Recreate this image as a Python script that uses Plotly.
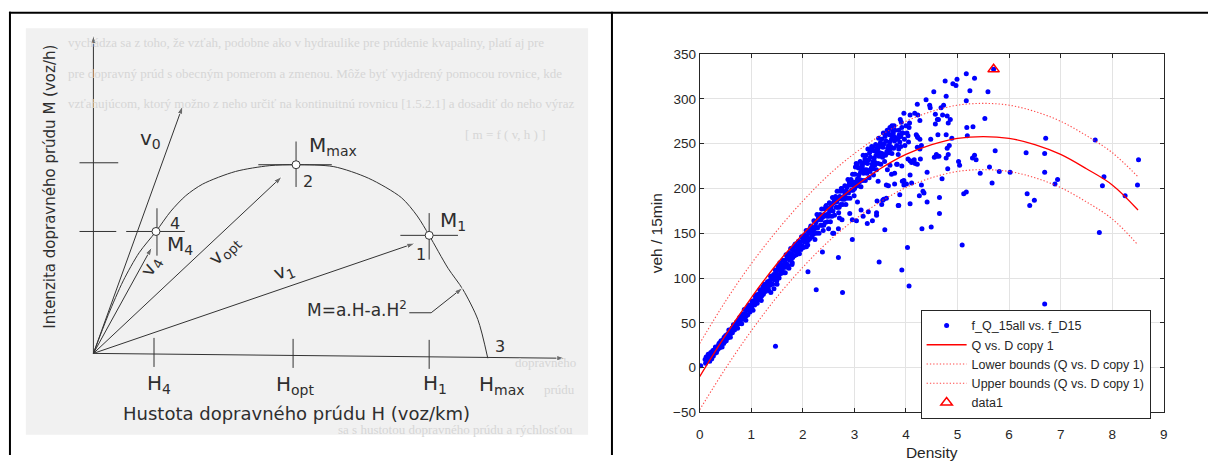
import plotly.graph_objects as go

W, H = 1212, 463

# ======================= RIGHT PANEL DATA =======================
# dense band of observations (density, flow)
band_points = [
    (0.105, 9), (0.115, 5), (0.125, 12), (0.135, 7), (0.145, 10),
    (0.155, 11), (0.165, 15), (0.175, 9), (0.185, 12), (0.195, 7),
    (0.205, 12), (0.215, 17), (0.225, 14), (0.235, 10), (0.245, 15),
    (0.255, 19), (0.265, 13), (0.275, 18), (0.285, 20), (0.295, 16),
    (0.305, 23), (0.315, 19), (0.325, 17), (0.335, 22), (0.345, 20),
    (0.355, 21), (0.365, 25), (0.375, 27), (0.385, 22), (0.395, 28),
    (0.405, 25), (0.415, 30), (0.425, 27), (0.435, 23), (0.445, 28),
    (0.455, 31), (0.465, 27), (0.475, 34), (0.485, 29), (0.495, 32),
    (0.505, 36), (0.515, 30), (0.525, 35), (0.535, 37), (0.545, 33),
    (0.555, 38), (0.565, 42), (0.575, 36), (0.585, 39), (0.595, 34),
    (0.605, 38), (0.615, 42), (0.625, 44), (0.635, 39), (0.645, 45),
    (0.655, 48), (0.665, 44), (0.675, 42), (0.685, 47), (0.695, 45),
    (0.705, 46), (0.715, 51), (0.725, 48), (0.735, 44), (0.745, 49),
    (0.755, 53), (0.765, 49), (0.775, 56), (0.785, 51), (0.795, 54),
    (0.805, 58), (0.815, 49), (0.825, 57), (0.835, 60), (0.845, 54),
    (0.855, 59), (0.865, 65), (0.875, 56), (0.885, 60), (0.895, 53),
    (0.905, 58), (0.915, 64), (0.925, 66), (0.935, 59), (0.945, 68),
    (0.955, 70), (0.965, 64), (0.975, 62), (0.985, 69), (0.995, 66),
    (1.005, 67), (1.015, 74), (1.025, 70), (1.035, 64), (1.045, 72),
    (1.055, 75), (1.065, 70), (1.075, 80), (1.085, 72), (1.095, 77),
    (1.105, 81), (1.115, 72), (1.125, 80), (1.135, 82), (1.145, 76),
    (1.155, 81), (1.165, 87), (1.175, 78), (1.185, 83), (1.195, 75),
    (1.205, 80), (1.215, 87), (1.225, 90), (1.235, 82), (1.245, 91),
    (1.255, 93), (1.265, 87), (1.275, 85), (1.285, 92), (1.295, 89),
    (1.305, 89), (1.315, 96), (1.325, 92), (1.335, 86), (1.345, 94),
    (1.355, 97), (1.365, 92), (1.375, 102), (1.385, 94), (1.395, 99),
    (1.405, 102), (1.415, 93), (1.425, 101), (1.435, 104), (1.445, 98),
    (1.455, 103), (1.465, 109), (1.475, 100), (1.485, 105), (1.495, 97),
    (1.505, 101), (1.515, 109), (1.525, 113), (1.535, 103), (1.545, 115),
    (1.555, 117), (1.565, 109), (1.575, 105), (1.585, 115), (1.595, 111),
    (1.605, 110), (1.615, 120), (1.625, 114), (1.635, 106), (1.645, 116),
    (1.655, 120), (1.665, 112), (1.675, 126), (1.685, 116), (1.695, 122),
    (1.705, 126), (1.715, 114), (1.725, 124), (1.735, 128), (1.745, 120),
    (1.755, 125), (1.765, 133), (1.775, 121), (1.785, 127), (1.795, 117),
    (1.805, 123), (1.815, 131), (1.825, 135), (1.835, 125), (1.845, 137),
    (1.855, 138), (1.865, 130), (1.875, 126), (1.885, 136), (1.895, 132),
    (1.905, 131), (1.915, 141), (1.925, 135), (1.935, 127), (1.945, 137),
    (1.955, 140), (1.965, 132), (1.975, 146), (1.985, 136), (1.995, 142),
    (2.005, 146), (2.015, 134), (2.025, 144), (2.035, 148), (2.045, 140),
    (2.055, 145), (2.065, 153), (2.075, 141), (2.085, 147), (2.095, 137),
    (2.105, 142), (2.115, 150), (2.125, 154), (2.135, 144), (2.145, 156),
    (2.155, 158), (2.165, 150), (2.175, 146), (2.185, 156), (2.195, 152),
    (2.205, 149), (2.215, 164), (2.225, 155), (2.235, 143), (2.245, 158),
    (2.255, 162), (2.265, 150), (2.275, 171), (2.285, 156), (2.295, 165),
    (2.305, 168), (2.315, 150), (2.325, 165), (2.335, 171), (2.345, 159),
    (2.355, 165), (2.365, 177), (2.375, 159), (2.385, 168), (2.395, 153),
    (2.405, 159), (2.415, 171), (2.425, 177), (2.435, 162), (2.445, 180),
    (2.455, 181), (2.465, 169), (2.475, 163), (2.485, 178), (2.495, 172),
    (2.505, 169), (2.515, 184), (2.525, 175), (2.535, 163), (2.545, 178),
    (2.555, 181), (2.565, 169), (2.575, 190), (2.585, 175), (2.595, 184),
    (2.605, 188), (2.615, 170), (2.625, 185), (2.635, 191), (2.645, 179),
    (2.655, 185), (2.665, 197), (2.675, 179), (2.685, 188), (2.695, 173),
    (2.705, 179), (2.715, 191), (2.725, 197), (2.735, 182), (2.745, 200),
    (2.755, 200), (2.765, 188), (2.775, 182), (2.785, 197), (2.795, 191),
    (2.805, 188), (2.815, 203), (2.825, 194), (2.835, 182), (2.845, 197),
    (2.855, 201), (2.865, 189), (2.875, 210), (2.885, 195), (2.895, 204),
    (2.905, 207), (2.915, 189), (2.925, 204), (2.935, 210), (2.945, 198),
    (2.955, 204), (2.965, 216), (2.975, 198), (2.985, 207), (2.995, 192),
    (3.004, 200), (3.012, 216), (3.020, 224), (3.028, 204), (3.036, 228), (3.045, 208),
    (3.054, 227), (3.062, 211), (3.070, 203), (3.078, 223), (3.086, 215), (3.095, 207),
    (3.104, 210), (3.112, 230), (3.120, 218), (3.128, 202), (3.136, 222), (3.145, 226),
    (3.154, 225), (3.162, 209), (3.170, 237), (3.178, 217), (3.186, 229), (3.195, 221),
    (3.204, 233), (3.212, 209), (3.220, 229), (3.228, 237), (3.236, 221), (3.245, 217),
    (3.254, 228), (3.262, 244), (3.270, 220), (3.278, 232), (3.286, 212), (3.295, 240),
    (3.304, 219), (3.312, 235), (3.320, 243), (3.328, 223), (3.336, 247), (3.345, 227),
    (3.354, 246), (3.362, 230), (3.370, 222), (3.378, 242), (3.386, 234), (3.395, 226),
    (3.404, 229), (3.412, 249), (3.420, 237), (3.428, 221), (3.436, 241), (3.445, 245),
    (3.454, 244), (3.462, 228), (3.470, 256), (3.478, 236), (3.486, 248), (3.495, 240),
    (3.504, 251), (3.512, 227), (3.520, 247), (3.528, 255), (3.536, 239), (3.545, 235),
    (3.554, 246), (3.562, 262), (3.570, 238), (3.578, 250), (3.586, 230), (3.595, 258),
    (3.604, 237), (3.612, 253), (3.620, 261), (3.628, 241), (3.636, 265), (3.645, 245),
    (3.654, 264), (3.662, 248), (3.670, 240), (3.678, 260), (3.686, 252), (3.695, 244),
    (3.704, 247), (3.712, 267), (3.720, 255), (3.728, 239), (3.736, 259), (3.745, 263),
    (3.754, 261), (3.762, 245), (3.770, 270), (3.778, 253), (3.786, 265), (3.795, 257),
    (3.82, 248), (3.84, 255), (3.86, 244), (3.88, 252), (3.90, 258), (3.93, 262), (3.85, 238), (3.90, 247),
    (3.86, 265), (3.88, 258), (3.92, 268), (3.94, 262), (3.97, 255), (4.00, 270), (4.02, 262), (3.98, 248),
    (4.05, 252), (4.06, 268), (4.04, 259),
]

# scattered observations away from the band
scatter_points = [
    (0.02, 2), (1.47, 24), (2.26, 87), (2.77, 84), (2.10, 107), (2.69, 123), (2.38, 129), (2.07, 135),
    (2.96, 143), (3.48, 118), (3.92, 109), (4.06, 91), (4.03, 134), (4.31, 155), (4.49, 157), (5.09, 137),
    (6.69, 71), (7.75, 151), (3.25, 161), (3.35, 164), (3.59, 154), (2.58, 150), (2.76, 165), (2.50, 155),
    (5.70, 333), (5.17, 328), (5.33, 323), (4.76, 320), (4.91, 317), (4.97, 315), (4.99, 322), (4.54, 308),
    (5.24, 309), (5.59, 308), (4.39, 299), (5.17, 298), (4.78, 303), (3.96, 284), (4.08, 282), (4.17, 284),
    (4.23, 282), (4.46, 293), (4.47, 290), (4.57, 283), (4.71, 282), (4.80, 281), (4.68, 290), (4.73, 293),
    (4.86, 277), (4.82, 273), (4.63, 277), (4.61, 277), (4.57, 272), (5.53, 278), (5.18, 268), (5.30, 269),
    (5.19, 259), (4.78, 260), (4.89, 256), (4.48, 255), (4.23, 257), (6.71, 256), (7.67, 254), (4.84, 248),
    (4.80, 245), (4.82, 238), (4.78, 234), (4.27, 244), (4.55, 235), (4.60, 236), (4.64, 236), (4.28, 233),
    (5.73, 242), (5.29, 234), (5.36, 232), (5.33, 237), (5.02, 230), (5.04, 226), (4.14, 230), (4.18, 228),
    (4.22, 227), (4.08, 231), (4.04, 233), (4.16, 232), (4.11, 229), (6.33, 240), (6.69, 239), (8.51, 232),
    (5.62, 224), (5.44, 217), (5.81, 219), (6.02, 218), (5.67, 206), (3.92, 225), (4.81, 222), (4.41, 218),
    (4.08, 215), (4.70, 211), (3.96, 209), (3.96, 204), (6.69, 218), (6.94, 210), (6.89, 205), (7.84, 213),
    (7.81, 203), (8.25, 192), (8.49, 204), (4.33, 197), (4.35, 195), (5.12, 194), (5.17, 196), (6.35, 194),
    (6.40, 181), (6.49, 187), (4.65, 190), (4.41, 185), (3.85, 181), (4.65, 172), (4.22, 294), (3.69, 268),
    (3.73, 270), (3.89, 277), (3.91, 274), (4.07, 273), (4.27, 276), (4.62, 260), (4.22, 258), (3.87, 260),
    (4.22, 246), (4.59, 238), (3.83, 227), (3.78, 217), (3.46, 208), (3.62, 204), (4.30, 204), (3.62, 189),
    (3.55, 187), (3.44, 186), (3.27, 174), (3.43, 170), (3.86, 181), (2.96, 165), (3.04, 164), (3.13, 176),
    (3.17, 169), (4.01, 205), (3.37, 215), (3.69, 226), (3.64, 221), (4.30, 248), (4.20, 260), (4.27, 255),
    (2.60, 150), (2.71, 167), (2.69, 155), (2.91, 172), (3.06, 185), (3.43, 173), (3.57, 188), (3.53, 182),
    (3.72, 216), (3.82, 227), (3.88, 193), (3.93, 208), (4.11, 206), (4.26, 192), (4.08, 183), (3.78, 205),
    (3.66, 203), (1.44, 88), (1.50, 93), (1.54, 100), (1.57, 106), (1.38, 84), (1.33, 88), (1.66, 106),
    (1.73, 111), (1.79, 115),
]

fit_density = [0, 0.5, 1, 1.5, 2, 2.5, 3, 3.5, 4, 4.5, 5, 5.5, 6, 6.5, 7, 7.5, 8, 8.5]
fit_flow = [-10, 36, 78, 116, 149, 178, 202, 222, 238, 249, 256, 258, 256, 249, 238, 222, 204, 176]
lower_flow = [-47, -1, 41, 79, 112, 141, 165, 185, 201, 212, 219, 221, 219, 212, 201, 185, 166, 137]
upper_flow = [27, 74, 116, 153, 186, 215, 239, 259, 275, 286, 293, 295, 293, 286, 275, 259, 240, 213]

data1_density = [5.70]
data1_flow = [333]

x_ticks = [0, 1, 2, 3, 4, 5, 6, 7, 8, 9]
y_ticks = [-50, 0, 50, 100, 150, 200, 250, 300, 350]

legend_names = [
    "f_Q_15all vs. f_D15",
    "Q vs. D copy 1",
    "Lower bounds (Q vs. D copy 1)",
    "Upper bounds (Q vs. D copy 1)",
    "data1",
]

# ======================= LEFT PANEL (schematic diagram) =======================
# diagram coordinates: H to the right from origin, M upward from origin
curve_h = [0, 15, 30, 46, 63, 78, 93, 110, 143, 177, 204, 242, 277, 310, 326, 338, 357, 372, 387, 397]
curve_m = [0, 40, 75, 104, 126, 147, 163, 175, 188, 194, 195, 193, 181, 161, 142, 122, 88, 66, 35, -5]

points_h = [63, 204, 338]          # M4, Mmax, M1
points_m = [126, 195, 122]

# arrows (start H, start M, tip H, tip M): axes, v0, v4, vopt, v1, formula pointer
arrows = [
    (0, 0, 0, 329),
    (0, 0, 475, -5),
    (0, 0, 90, 256),
    (0, 0, 59, 110),
    (0, 0, 190, 183),
    (0, 0, 324, 114),
    (340, 42, 372, 68),
]

# cross-hair / tick segments (H0, M0, H1, M1)
segments = [
    (-14, 197, 25, 197),      # M axis tick at Mmax
    (-14, 126, 23, 126),      # M axis dash at M4
    (33, 126, 92, 126),       # horizontal through M4
    (64, 150, 64, 101),       # vertical through M4
    (166, 195, 240, 195),     # horizontal through Mmax
    (204, 219, 204, 172),     # vertical through Mmax
    (309, 122, 367, 122),     # horizontal through M1
    (338, 145, 338, 97),      # vertical through M1
    (61, 16, 61, -14),        # H4 tick
    (201, 15, 201, -15),      # Hopt tick
    (338, 14, 338, -16),      # H1 tick
    (318, 42, 340, 42),       # formula leader
]

diagram_labels = [
    # text, H, M, angle, anchor, size
    ("v<sub>0</sub>", 57, 222, 0, "center", 20),
    ("M<sub>max</sub>", 215, 214, 0, "left", 20),
    ("2", 216, 178, 0, "center", 16),
    ("4", 82, 134, 0, "center", 16),
    ("M<sub>4</sub>", 87, 112, 0, "center", 20),
    ("v<sub>4</sub>", 58, 90, -62, "center", 19),
    ("v<sub>opt</sub>", 132, 106, -45, "center", 19),
    ("v<sub>1</sub>", 192, 85, -22, "center", 19),
    ("M<sub>1</sub>", 362, 137, 0, "center", 20),
    ("1", 330, 102, 0, "center", 16),
    ("M=a.H-a.H<sup>2</sup>", 318, 46, 0, "right", 17),
    ("3", 409, 7, 0, "center", 16),
    ("H<sub>4</sub>", 66, -32, 0, "center", 20),
    ("H<sub>opt</sub>", 203, -33, 0, "center", 20),
    ("H<sub>1</sub>", 344, -32, 0, "center", 20),
    ("H<sub>max</sub>", 411, -33, 0, "center", 20),
    ("Hustota dopravného prúdu H (voz/km)", 204, -62, 0, "center", 18),
    ("Intenzita dopravného prúdu M (voz/h)", -44, 172, -90, "center", 15),
]

# faint text of the scanned page behind the diagram
background_text = [
    ("vychádza sa z toho, že vzťah, podobne ako v hydraulike pre prúdenie kvapaliny, platí aj pre", -28, 321),
    ("pre dopravný prúd s obecným pomerom a zmenou. Môže byť vyjadrený pomocou rovnice, kde", -28, 289),
    ("vzťahujúcom, ktorý možno z neho určiť na kontinuitnú rovnicu [1.5.2.1] a dosadiť do neho výraz", -28, 258),
    ("[ m = f ( v, h ) ]", 372, 226),
    ("dopravného", 422, -9),
    ("prúdu", 452, -37),
    ("sa s hustotou dopravného prúdu a rýchlosťou", 244, -79),
]

# ======================= FIGURE =======================
fig = go.Figure()

DIAG = "#333333"
dx = dict(xaxis="x2", yaxis="y2", hoverinfo="skip", showlegend=False)

# segments
sx, sy = [], []
for h0, m0, h1, m1 in segments:
    sx += [h0, h1, None]
    sy += [m0, m1, None]
fig.add_trace(go.Scatter(x=sx, y=sy, mode="lines", line=dict(color=DIAG, width=1), **dx))

# curve
fig.add_trace(go.Scatter(x=curve_h, y=curve_m, mode="lines",
                         line=dict(color=DIAG, width=1, shape="spline", smoothing=0.8), **dx))

# arrows
for h0, m0, h1, m1 in arrows:
    fig.add_trace(go.Scatter(x=[h0, h1], y=[m0, m1], mode="lines+markers",
                             line=dict(color=DIAG, width=1),
                             marker=dict(symbol="arrow", size=[0, 9], angleref="previous", color=DIAG),
                             **dx))

# points on curve
fig.add_trace(go.Scatter(x=points_h, y=points_m, mode="markers",
                         marker=dict(symbol="circle", size=8, color="white", line=dict(color=DIAG, width=1)), **dx))

# right panel traces
all_d = [p[0] for p in band_points] + [p[0] for p in scatter_points]
all_q = [p[1] for p in band_points] + [p[1] for p in scatter_points]

fig.add_trace(go.Scatter(x=all_d, y=all_q, mode="markers", name=legend_names[0],
                         marker=dict(color="#0000ff", size=5, line=dict(width=0)),
                         xaxis="x", yaxis="y"))
fig.add_trace(go.Scatter(x=fit_density, y=fit_flow, mode="lines", name=legend_names[1],
                         line=dict(color="#ff0000", width=1.3, shape="spline"), xaxis="x", yaxis="y"))
fig.add_trace(go.Scatter(x=fit_density, y=lower_flow, mode="lines", name=legend_names[2],
                         line=dict(color="rgba(255,40,40,0.85)", width=1.1, dash="1.3px,2px", shape="spline"),
                         xaxis="x", yaxis="y"))
fig.add_trace(go.Scatter(x=fit_density, y=upper_flow, mode="lines", name=legend_names[3],
                         line=dict(color="rgba(255,40,40,0.85)", width=1.1, dash="1.3px,2px", shape="spline"),
                         xaxis="x", yaxis="y"))
fig.add_trace(go.Scatter(x=data1_density, y=data1_flow, mode="markers", name=legend_names[4],
                         marker=dict(symbol="triangle-up-open", size=10, color="#ff0000", line=dict(width=1.5)),
                         xaxis="x", yaxis="y"))

# annotations
annotations = []
for txt, hx, my in background_text:
    annotations.append(dict(x=hx, y=my, xref="x2", yref="y2", text=txt, showarrow=False,
                            xanchor="left", yanchor="middle",
                            font=dict(family="Liberation Serif", size=13, color="#d6d6d6")))

for txt, hx, my, ang, anc, sz in diagram_labels:
    ann = dict(x=hx, y=my, xref="x2", yref="y2", text=txt, showarrow=False,
               xanchor=anc, yanchor="middle",
               font=dict(family="DejaVu Sans, Arial, sans-serif", size=sz, color="#2e2e2e"))
    if ang:
        ann["textangle"] = ang
    annotations.append(ann)

# frame shapes
px = lambda v: v / W
py = lambda v: 1 - v / H
shapes = [
    dict(type="rect", xref="paper", yref="paper", x0=px(22), x1=px(588), y0=py(442), y1=py(22),
         fillcolor="#f1f1f1", line=dict(width=0), layer="below"),
    dict(type="line", xref="paper", yref="paper", x0=px(5), x1=1, y0=py(6), y1=py(6),
         line=dict(color="black", width=2)),
    dict(type="line", xref="paper", yref="paper", x0=px(6), x1=px(6), y0=py(5), y1=0,
         line=dict(color="black", width=2)),
    dict(type="line", xref="paper", yref="paper", x0=px(612), x1=px(612), y0=py(5), y1=0,
         line=dict(color="black", width=2)),
]

axis_font = dict(family="Liberation Sans, Arial", size=13.5, color="#262626")
title_font = dict(family="Liberation Sans, Arial", size=15.5, color="#262626")

fig.update_layout(
    width=W, height=H,
    margin=dict(l=0, r=0, t=0, b=0),
    paper_bgcolor="white",
    plot_bgcolor="rgba(0,0,0,0)",
    shapes=shapes,
    annotations=annotations,
    xaxis=dict(domain=[px(700.3), px(1167.5)], range=[0, 9], tickvals=x_ticks,
               ticks="inside", ticklen=4, tickcolor="#262626", showline=True, linecolor="#262626",
               linewidth=1, mirror="ticks", showgrid=True, gridcolor="#e3e3e3", gridwidth=1,
               zeroline=False, tickfont=axis_font, anchor="y", ticklabelstandoff=9,
               title=dict(text="Density", font=title_font, standoff=6)),
    yaxis=dict(domain=[py(419), py(48.7)], range=[-50, 350], tickvals=y_ticks,
               ticks="inside", ticklen=4, tickcolor="#262626", showline=True, linecolor="#262626",
               linewidth=1, mirror="ticks", showgrid=True, gridcolor="#e3e3e3", gridwidth=1,
               zeroline=False, tickfont=axis_font, anchor="x",
               title=dict(text="veh / 15min", font=title_font, standoff=6)),
    xaxis2=dict(domain=[0, px(612)], range=[-90, 522], visible=False, anchor="y2", fixedrange=True),
    yaxis2=dict(domain=[0, 1], range=[-105, 358], visible=False, anchor="x2", fixedrange=True),
    legend=dict(x=px(922.7), y=py(313), xanchor="left", yanchor="top", bgcolor="white",
                bordercolor="#262626", borderwidth=1, tracegroupgap=0, itemwidth=40,
                font=dict(family="Liberation Sans, Arial", size=12.5, color="#262626")),
    showlegend=True,
)

fig.write_html("out.html", config={"displayModeBar": False},
               post_script="document.body.style.margin='0px';document.body.style.overflow='hidden';")
